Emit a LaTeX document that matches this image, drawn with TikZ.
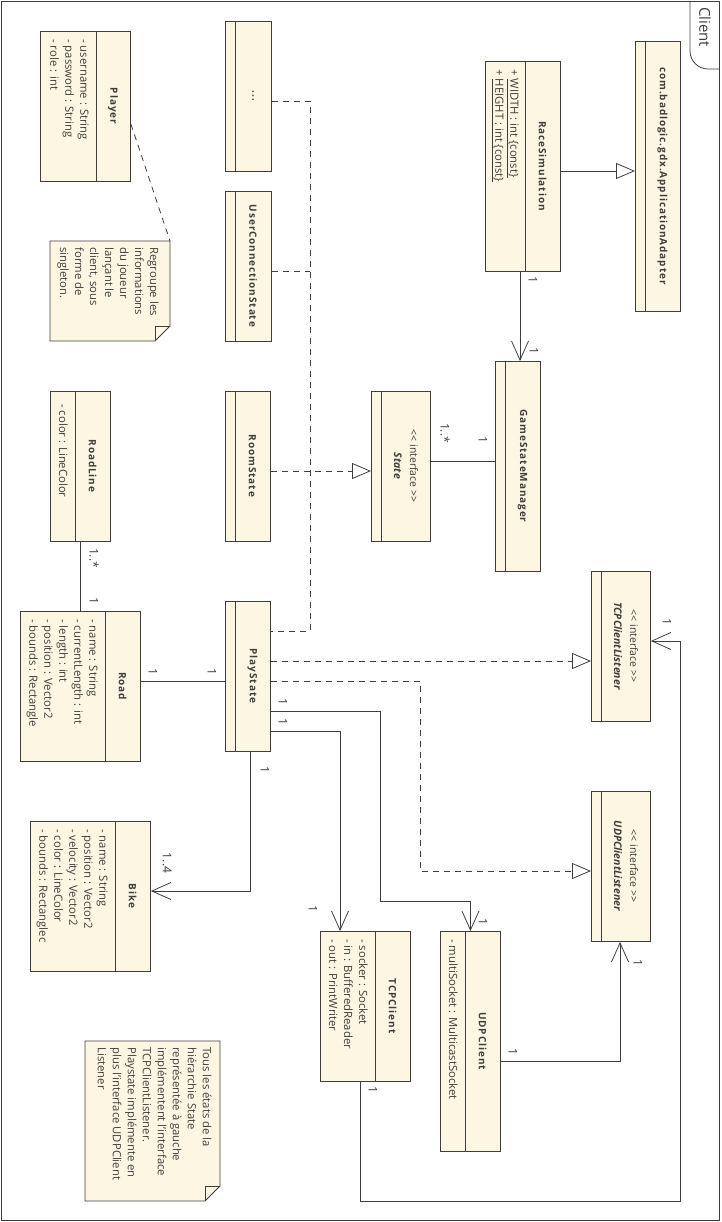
\documentclass[tikz,border=0pt]{standalone}
\usepackage{fontspec}
\setmainfont{Open Sans}
\newfontfamily\namefont[LetterSpace=9.0]{Open Sans}
\usetikzlibrary{arrows.meta}

\definecolor{boxfill}{RGB}{253,246,226}
\definecolor{linegray}{RGB}{62,62,62}

\tikzset{
  cls/.style={draw=linegray, fill=boxfill, line width=0.9pt, anchor=north west, inner sep=0pt},
  cname/.style={rotate=-90, text=linegray, font=\namefont\bfseries\fontsize{10}{12}\selectfont, inner sep=0pt},
  iname/.style={rotate=-90, align=center, text=linegray, font=\fontsize{10.5}{16}\selectfont, inner sep=0pt},
  attrs/.style={rotate=-90, anchor=north west, align=left, text=linegray, font=\fontsize{11.3}{15}\selectfont, inner sep=0pt},
  mult/.style={rotate=-90, text=linegray, font=\fontsize{12}{13}\selectfont, inner sep=0pt},
  dep/.style={dash pattern=on 6pt off 5pt},
  gen/.style={-{Triangle[open, length=19pt, width=16pt, fill=white]}},
  nav/.style={-{Straight Barb[length=19pt, width=17pt]}},
}

\begin{document}
\begin{tikzpicture}[x=1pt, y=-1pt, line width=0.8pt, color=linegray]
	\useasboundingbox (0,0) rectangle (721,1222);

	% frame of the package
	\draw (1,1) rectangle (719,1220);
	\draw[rounded corners=18pt] (690,1) -- (690,69) -- (719,69);
	\node[rotate=-90, font=\fontsize{15}{17}\selectfont] (clientL) at (705,27) {Client};

	% classes
	\node[cls, minimum width=90pt, minimum height=150pt] (player) at (40,31) {};
	\draw ([xshift=56pt]player.north west) -- ([xshift=56pt]player.south west);
	\node[cname] (playerN) at (113,106) {Player};
	\node[attrs] (playerA) at (89,39) {- username : String\\- password : String\\- role : int};

	\node[cls, minimum width=46pt, minimum height=150pt] (dots) at (225,21) {};
	\draw ([xshift=10pt]dots.north west) -- ([xshift=10pt]dots.south west);
	\node[cname] (dotsN) at (253,96) {...};

	\node[cls, minimum width=46pt, minimum height=150pt] (userconn) at (225,191) {};
	\draw ([xshift=10pt]userconn.north west) -- ([xshift=10pt]userconn.south west);
	\node[cname] (userconnN) at (253,266) {UserConnectionState};

	\node[cls, minimum width=45pt, minimum height=150pt] (room) at (225,391) {};
	\draw ([xshift=10pt]room.north west) -- ([xshift=10pt]room.south west);
	\node[cname] (roomN) at (252.5,466) {RoomState};

	\node[cls, minimum width=45pt, minimum height=150pt] (play) at (225,601) {};
	\draw ([xshift=10pt]play.north west) -- ([xshift=10pt]play.south west);
	\node[cname] (playN) at (252.5,676) {PlayState};

	\node[cls, minimum width=59pt, minimum height=150pt] (state) at (371,391) {};
	\draw ([xshift=10pt]state.north west) -- ([xshift=10pt]state.south west);
	\node[iname] (stateN) at (406,466) {<\kern0pt< interface >\kern0pt>\\\textbf{\textit{State}}};

	\node[cls, minimum width=45pt, minimum height=210pt] (gsm) at (495,361) {};
	\draw ([xshift=10pt]gsm.north west) -- ([xshift=10pt]gsm.south west);
	\node[cname] (gsmN) at (522.5,466) {GameStateManager};

	\node[cls, minimum width=75pt, minimum height=210pt] (race) at (485,61) {};
	\draw ([xshift=40pt]race.north west) -- ([xshift=40pt]race.south west);
	\node[cname] (raceN) at (542.5,166) {RaceSimulation};
	\node[attrs] (raceA) at (519,69) {+ \underline{WIDTH : int \{const\}}\\+ \underline{HEIGHT : int \{const\}}};

	\node[cls, minimum width=45pt, minimum height=270pt] (appad) at (635,41) {};
	\draw ([xshift=10pt]appad.north west) -- ([xshift=10pt]appad.south west);
	\node[cname] (appadN) at (662.5,176) {com.badlogic.gdx.ApplicationAdapter};

	\node[cls, minimum width=59pt, minimum height=150pt] (tcpl) at (591,571) {};
	\draw ([xshift=10pt]tcpl.north west) -- ([xshift=10pt]tcpl.south west);
	\node[iname] (tcplN) at (626,646) {<\kern0pt< interface >\kern0pt>\\\textbf{\textit{TCPClientListener}}};

	\node[cls, minimum width=59pt, minimum height=150pt] (udpl) at (591,791) {};
	\draw ([xshift=10pt]udpl.north west) -- ([xshift=10pt]udpl.south west);
	\node[iname] (udplN) at (626,866) {<\kern0pt< interface >\kern0pt>\\\textbf{\textit{UDPClientListener}}};

	\node[cls, minimum width=60pt, minimum height=150pt] (roadline) at (50,391) {};
	\draw ([xshift=25pt]roadline.north west) -- ([xshift=25pt]roadline.south west);
	\node[cname] (roadlineN) at (92.5,466) {RoadLine};
	\node[attrs] (roadlineA) at (68,404) {- color : LineColor};

	\node[cls, minimum width=120pt, minimum height=150pt] (road) at (20,611) {};
	\draw ([xshift=85pt]road.north west) -- ([xshift=85pt]road.south west);
	\node[cname] (roadN) at (122.5,686) {Road};
	\node[attrs] (roadA) at (98,619) {- name : String\\- currentLength : int\\- length : int\\- position : Vector2\\- bounds : Rectangle};

	\node[cls, minimum width=120pt, minimum height=150pt] (bike) at (30,821) {};
	\draw ([xshift=85pt]bike.north west) -- ([xshift=85pt]bike.south west);
	\node[cname] (bikeN) at (132.5,896) {Bike};
	\node[attrs] (bikeA) at (108,829) {- name : String\\- position : Vector2\\- velocity : Vector2\\- color : LineColor\\- bounds : Rectanglec};

	\node[cls, minimum width=90pt, minimum height=150pt] (tcp) at (320,931) {};
	\draw ([xshift=55pt]tcp.north west) -- ([xshift=55pt]tcp.south west);
	\node[cname] (tcpN) at (392.5,1006) {TCPClient};
	\node[attrs] (tcpA) at (368,939) {- socker : Socket\\- in : BufferedReader\\- out : PrintWriter};

	\node[cls, minimum width=60pt, minimum height=220pt] (udp) at (440,931) {};
	\draw ([xshift=25pt]udp.north west) -- ([xshift=25pt]udp.south west);
	\node[cname] (udpN) at (482.5,1041) {UDPClient};
	\node[attrs] (udpA) at (458,939) {- multiSocket : MulticastSocket};

	% notes
	\draw[fill=boxfill] (50,241) -- (170,241) -- (170,326) -- (155,341) -- (50,341) -- cycle;
	\draw (170,326) -- (155,326) -- (155,341);
	\coordinate (noteAcorner) at (170,241);
	\node[attrs] (noteA) at (159,247) {Regroupe les\\informations\\du joueur\\lançant le\\client, sous\\forme de\\singleton.};

	\draw[fill=boxfill] (85,1041) -- (220,1041) -- (220,1186) -- (205,1201) -- (85,1201) -- cycle;
	\draw (220,1186) -- (205,1186) -- (205,1201);
	\node[attrs] (noteB) at (212,1047) {Tous les états de la\\hiérarchie State\\représentée à gauche\\implémentent l'interface\\TCPClientListener.\\Playstate implémente en\\plus l'interface UDPClient\\Listener};

	\draw[dep] (player.east |- 0,124) -- (noteAcorner);

	% realizations of State
	\draw[dep] (dots.east |- 0,101) -| (310,631) -- (play.east |- 0,631);
	\draw[dep] (userconn.east |- 0,271) -- (310,271);
	\draw[dep, gen] (room.east |- 0,471) -- (state.west |- 0,471);

	% associations
	\draw (state.east |- 0,461) -- (gsm.west |- 0,461);
	\node[mult] (m1) at (445,433) {1..*};
	\node[mult] (m2) at (483,440) {1};

	\draw[nav] (race.south -| 520,0) -- (gsm.north -| 520,0);
	\node[mult] (m3) at (533,280) {1};
	\node[mult] (m4) at (534,351) {1};

	\draw[gen] (race.east |- 0,171) -- (appad.west |- 0,171);

	\draw (roadline.south -| 80,0) -- (road.north -| 80,0);
	\node[mult] (m5) at (94,558) {1..*};
	\node[mult] (m6) at (94,601) {1};

	\draw (road.east |- 0,681) -- (play.west |- 0,681);
	\node[mult] (m7) at (153,672) {1};
	\node[mult] (m8) at (212,672) {1};

	\draw[dep, gen] (play.east |- 0,661) -- (tcpl.west |- 0,661);
	\draw[dep, gen] (play.east |- 0,681) -| (420,871) -- (udpl.west |- 0,871);

	\draw[nav] (play.east |- 0,711) -| (380,901) -| (udp.north);
	\node[mult] (m9) at (283,702) {1};
	\node[mult] (m10) at (483,922) {1};

	\draw[nav] (play.east |- 0,731) -| (tcp.north -| 340,0);
	\node[mult] (m11) at (283,722) {1};
	\node[mult] (m12) at (313,909) {1};

	\draw[nav] (play.south -| 250,0) |- (bike.east |- 0,891);
	\node[mult] (m13) at (265,770) {1};
	\node[mult] (m14) at (167,863) {1..4};

	\draw[nav] (udp.east |- 0,1061) -| (udpl.south -| 620,0);
	\node[mult] (m15) at (513,1052) {1};
	\node[mult] (m16) at (638,963) {1};

	\draw[nav] (tcp.south -| 360,0) |- (680,1201) |- (tcpl.east |- 0,641);
	\node[mult] (m17) at (373,1090) {1};
	\node[mult] (m18) at (667,622) {1};

\end{tikzpicture}
\end{document}
